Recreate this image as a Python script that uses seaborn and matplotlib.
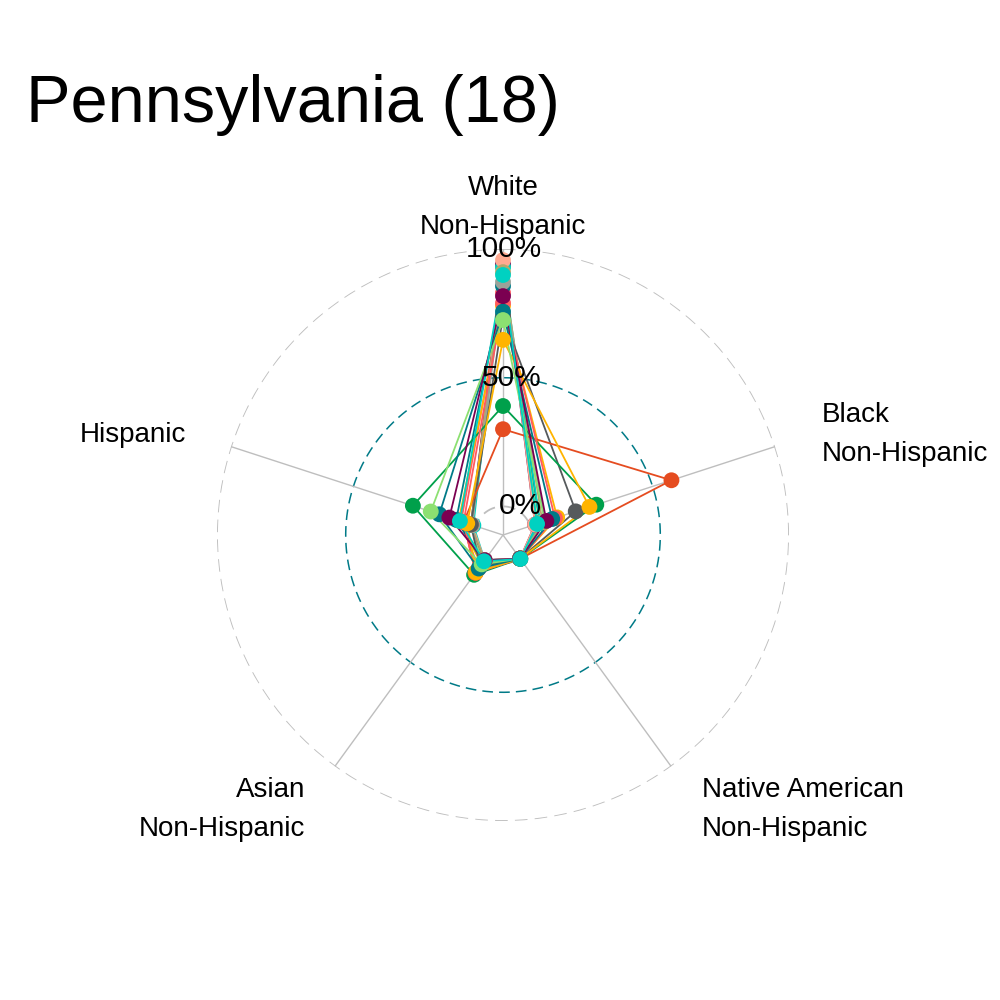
import numpy as np
import pandas as pd
import matplotlib
matplotlib.use("Agg")
import matplotlib.pyplot as plt
import seaborn as sns

# Data (share of population by group, per district)
categories = ["White\nNon-Hispanic", "Black\nNon-Hispanic", "Native American\nNon-Hispanic",
              "Asian\nNon-Hispanic", "Hispanic"]
districts = ["PA-1", "PA-10", "PA-11", "PA-12", "PA-13", "PA-14", "PA-15", "PA-16", "PA-17",
             "PA-18", "PA-2", "PA-3", "PA-4", "PA-5", "PA-6", "PA-7", "PA-8", "PA-9"]
white = [0.83, 0.78, 0.856, 0.93, 0.94, 0.93, 0.957, 0.91, 0.872,
         0.74, 0.39, 0.30, 0.79, 0.647, 0.757, 0.724, 0.817, 0.899]
black = [0.04, 0.11, 0.04, 0.03, 0.02, 0.04, 0.02, 0.05, 0.06,
         0.186, 0.27, 0.577, 0.101, 0.242, 0.09, 0.06, 0.066, 0.028]
native = [0.002, 0.002, 0.002, 0.002, 0.002, 0.002, 0.002, 0.002, 0.002,
          0.002, 0.003, 0.003, 0.002, 0.002, 0.002, 0.002, 0.002, 0.004]
asian = [0.05, 0.03, 0.02, 0.02, 0.01, 0.01, 0.01, 0.01, 0.04,
         0.04, 0.08, 0.07, 0.07, 0.068, 0.05, 0.03, 0.01, 0.015]
hispanic = [0.06, 0.07, 0.08, 0.02, 0.02, 0.01, 0.015, 0.02, 0.015,
            0.02, 0.257, 0.05, 0.05, 0.035, 0.149, 0.184, 0.108, 0.065]

# ggradar default palette, recycled for 18 groups
base_cols = ["#FF5A5F", "#FFB400", "#007A87", "#8CE071", "#7B0051", "#00D1C1",
             "#FFAA91", "#B4A76C", "#9CA299", "#565A5C", "#00A04B", "#E54C20"]
colours = (base_cols * 2)[:len(districts)]

centre = -1 / 9  # ggradar centre.y offset

angles = np.linspace(0, 2 * np.pi, len(categories), endpoint=False)
series = [white, black, native, asian, hispanic]

rows = []
for i, d in enumerate(districts):
    for k in range(len(categories) + 1):  # close the polygon
        j = k % len(categories)
        rows.append({"district": d, "theta": angles[j] if k < len(categories) else 2 * np.pi,
                     "value": series[j][i], "order": k})
df = pd.DataFrame(rows)
pts = df[df["order"] < len(categories)]

sns.set_style("white")
plt.rcParams["font.family"] = ["Liberation Sans", "DejaVu Sans"]
plt.rcParams["text.color"] = "black"

fig = plt.figure(figsize=(10, 10), dpi=100)
ax = fig.add_axes([0.217, 0.179, 0.572, 0.572], projection="polar")
ax.set_theta_zero_location("N")
ax.set_theta_direction(-1)
ax.set_ylim(centre, 1.0)
ax.grid(False)
ax.spines["polar"].set_visible(False)
ax.patch.set_visible(False)
ax.set_xticks([])
ax.set_yticks([])

# grid circles
circ = np.linspace(0, 2 * np.pi, 500)
ax.plot(circ, np.full_like(circ, 0.0), color="#BEBEBE", lw=1.3, ls=(0, (7, 4)), zorder=1)
ax.plot(circ, np.full_like(circ, 0.5), color="#007A87", lw=1.1, ls=(0, (7, 4)), zorder=1)
ax.plot(circ, np.full_like(circ, 1.0), color="#BEBEBE", lw=1.3, ls=(0, (7, 4)), zorder=1)

# axis lines
for a in angles:
    ax.plot([a, a], [centre, 1.0], color="#BEBEBE", lw=1.0, zorder=1)

sns.lineplot(data=df, x="theta", y="value", hue="district", hue_order=districts,
             palette=colours, sort=False, estimator=None, units="district",
             legend=False, ax=ax, linewidth=1.3, zorder=2)
sns.scatterplot(data=pts, x="theta", y="value", hue="district", hue_order=districts,
                palette=colours, s=130, linewidth=0, legend=False, ax=ax, zorder=3)
ax.set_xlabel("")
ax.set_ylabel("")

# gridline labels
for v, lab in [(0.0, "0%"), (0.5, "50%"), (1.0, "100%")]:
    ax.annotate(lab, xy=(0, v), xytext=(28, 0), textcoords="offset points",
                ha="right", va="center", fontsize=21.5, color="black", zorder=4)

# axis labels
r_lab = 1.15 * (1.0 - centre) + centre
for a, lab in zip(angles, categories):
    s, c = np.sin(a), np.cos(a)
    ha = "center" if abs(s) < 1e-6 else ("left" if s > 0 else "right")
    dx = 0 if ha == "center" else (4 if s > 0 else -3)
    dy = -6 if c < 0 else -1
    ax.annotate(lab, xy=(a, r_lab), xytext=(dx, dy), textcoords="offset points",
                ha=ha, va="center", fontsize=20, linespacing=1.65, color="black",
                annotation_clip=False)

fig.text(0.026, 0.878, "Pennsylvania (18)", fontsize=48, ha="left", va="baseline",
         color="black")

fig.savefig("out.png", dpi=100)
